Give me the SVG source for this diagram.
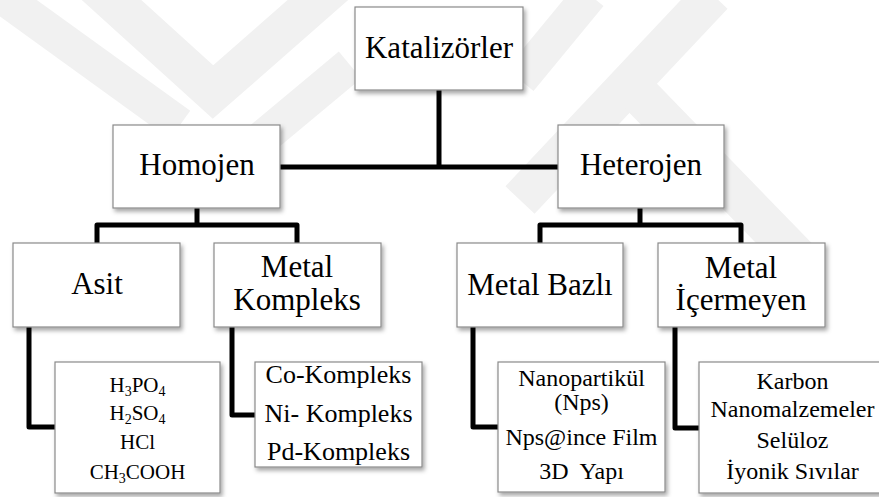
<svg xmlns="http://www.w3.org/2000/svg" width="879" height="497" viewBox="0 0 879 497">
<defs>
<filter id="sh" x="-10%" y="-10%" width="125%" height="130%">
<feDropShadow dx="2" dy="3" stdDeviation="2" flood-color="#000" flood-opacity="0.35"/>
</filter>
</defs>
<style>
.box{fill:#fff;stroke:#8a8a8a;stroke-width:1.2;filter:url(#sh)}
text{font-family:'Liberation Serif','Times New Roman',Times,'DejaVu Serif',serif;fill:#000;text-anchor:middle}
.l1{font-size:31px}
.l3{font-size:24px}
.k{font-size:26px}
.a{font-size:21px}
.sub{font-size:14px}
.c{fill:none;stroke:#000;stroke-width:5;stroke-linejoin:round;stroke-linecap:butt}
.wm{fill:none;stroke:#f1f1f1;stroke-linecap:butt}
</style>
<rect width="879" height="497" fill="#fff"/>
<g id="watermark">
<path class="wm" stroke-width="35" d="M0,-5 L180,125"/>
<path class="wm" stroke-width="40" d="M95,-15 L213,92 L335,-15"/>
<path class="wm" stroke-width="35" d="M350,65 L260,140"/>
<path class="wm" stroke-width="35" d="M590,-5 L520,80"/>
<path class="wm" stroke-width="40" d="M713,-5 L520,200"/>
<path class="wm" stroke-width="40" d="M640,95 L810,270"/>
</g>
<g id="connectors">
<path class="c" d="M439,90 V167"/>
<path class="c" d="M280,167 H558"/>
<path class="c" d="M197,208 V225"/>
<path class="c" d="M97,243 V225 H297 V243"/>
<path class="c" d="M640,208 V225"/>
<path class="c" d="M540,243 V225 H741 V243"/>
<path class="c" d="M29,327 V427 H55"/>
<path class="c" d="M232,327 V415 H255"/>
<path class="c" d="M473,327 V427 H498"/>
<path class="c" d="M675,327 V428 H699"/>
</g>
<g id="katalizorler">
<rect class="box" x="355" y="7" width="168" height="83"/>
<text class="l1" x="439" y="58">Katalizörler</text>
</g>
<g id="homojen">
<rect class="box" x="113" y="125" width="167" height="83"/>
<text class="l1" x="197" y="175">Homojen</text>
</g>
<g id="heterojen">
<rect class="box" x="558" y="125" width="166" height="83"/>
<text class="l1" x="641" y="175">Heterojen</text>
</g>
<g id="asit">
<rect class="box" x="13" y="243" width="167" height="84"/>
<text class="l1" x="97" y="294">Asit</text>
</g>
<g id="metal-kompleks">
<rect class="box" x="214" y="243" width="167" height="84"/>
<text class="l1" x="297" y="277">Metal</text>
<text class="l1" x="297" y="310">Kompleks</text>
</g>
<g id="metal-bazli">
<rect class="box" x="457" y="243" width="166" height="84"/>
<text class="l1" x="540" y="295">Metal Bazlı</text>
</g>
<g id="metal-icermeyen">
<rect class="box" x="658" y="243" width="167" height="84"/>
<text class="l1" x="741" y="278">Metal</text>
<text class="l1" x="741" y="310">İçermeyen</text>
</g>
<g id="asit-list">
<rect class="box" x="55" y="362" width="165" height="131"/>
<text class="a" x="137.5" y="392">H<tspan class="sub" dy="4">3</tspan><tspan dy="-4">PO</tspan><tspan class="sub" dy="4">4</tspan></text>
<text class="a" x="137.5" y="420">H<tspan class="sub" dy="4">2</tspan><tspan dy="-4">SO</tspan><tspan class="sub" dy="4">4</tspan></text>
<text class="a" x="137.5" y="449">HCl</text>
<text class="a" x="137.5" y="479">CH<tspan class="sub" dy="4">3</tspan><tspan dy="-4">COOH</tspan></text>
</g>
<g id="kompleks-list">
<rect class="box" x="255" y="362" width="167" height="105"/>
<text class="k" x="338.5" y="383">Co-Kompleks</text>
<text class="k" x="338.5" y="422">Ni- Kompleks</text>
<text class="k" x="338.5" y="460">Pd-Kompleks</text>
</g>
<g id="bazli-list">
<rect class="box" x="498" y="362" width="167" height="130"/>
<text class="l3" x="581.5" y="386">Nanopartikül</text>
<text class="l3" x="581.5" y="410">(Nps)</text>
<text class="l3" x="581.5" y="445">Nps@ince Film</text>
<text class="l3" x="581.5" y="479" xml:space="preserve">3D  Yapı</text>
</g>
<g id="icermeyen-list">
<rect class="box" x="699" y="362" width="188" height="131"/>
<text class="l3" x="792.5" y="389">Karbon</text>
<text class="l3" x="792.5" y="417">Nanomalzemeler</text>
<text class="l3" x="792.5" y="448">Selüloz</text>
<text class="l3" x="792.5" y="479">İyonik Sıvılar</text>
</g>
</svg>
